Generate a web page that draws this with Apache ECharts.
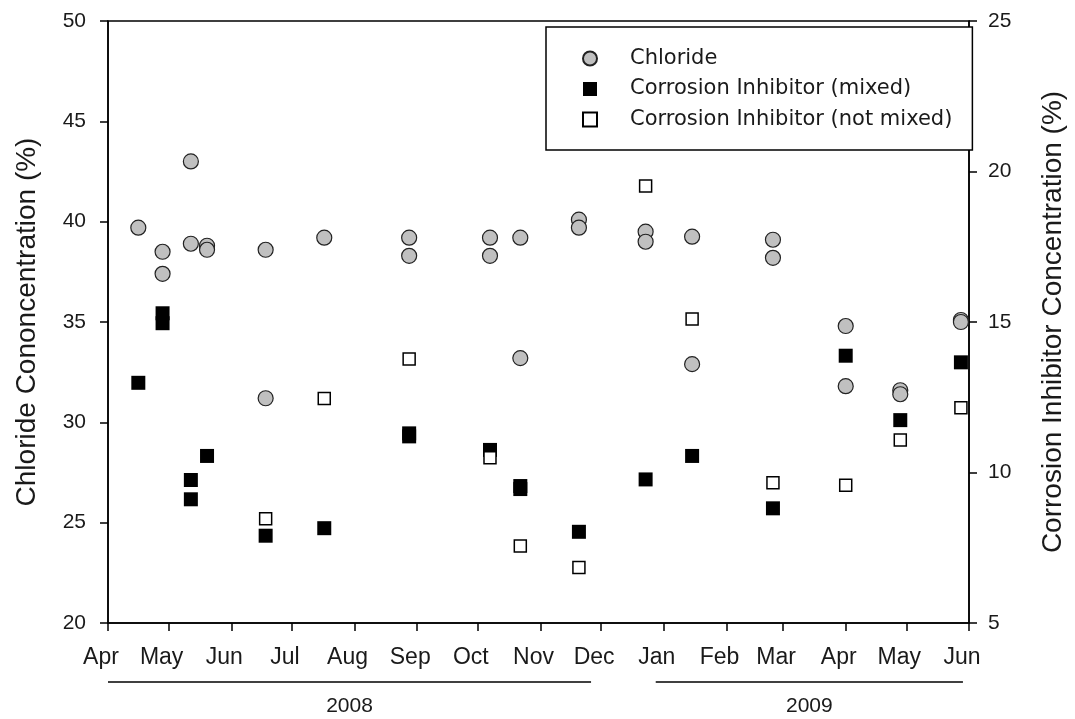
<!DOCTYPE html>
<html>
<head>
<meta charset="utf-8">
<script src="https://cdn.jsdelivr.net/npm/echarts@6/dist/echarts.min.js"></script>
<style>
html,body{margin:0;padding:0;background:#fff;}
#chart{width:1075px;height:719px;}
</style>
</head>
<body>
<div id="chart"></div>
<script>
// ---- data ----
const monthNames = ['Jan','Feb','Mar','Apr','May','Jun','Jul','Aug','Sep','Oct','Nov','Dec'];
const tickDates = ['2008-04-01','2008-05-01','2008-06-01','2008-07-01','2008-08-01','2008-09-01','2008-10-01','2008-11-01','2008-12-01','2009-01-01','2009-02-01','2009-03-01','2009-04-01','2009-05-01','2009-06-01'];
const leftTicks = [20, 25, 30, 35, 40, 45, 50];
const rightTicks = [5, 10, 15, 20, 25];

const chlorideDates  = ['2008-04-16','2008-04-28','2008-04-28','2008-05-12','2008-05-12','2008-05-20','2008-05-20','2008-06-18','2008-06-18','2008-07-17','2008-08-28','2008-08-28','2008-10-07','2008-10-07','2008-10-22','2008-10-22','2008-11-20','2008-11-20','2008-12-23','2008-12-23','2009-01-15','2009-01-15','2009-02-24','2009-02-24','2009-04-01','2009-04-01','2009-04-28','2009-04-28','2009-05-28','2009-05-28'];
const chlorideValues = [39.7, 38.5, 37.4, 43.0, 38.9, 38.8, 38.6, 38.6, 31.2, 39.2, 39.2, 38.3, 39.2, 38.3, 39.2, 33.2, 40.1, 39.7, 39.5, 39.0, 39.25, 32.9, 39.1, 38.2, 34.8, 31.8, 31.6, 31.4, 35.1, 35.0];

const mixedDates  = ['2008-04-16','2008-04-28','2008-04-28','2008-05-12','2008-05-12','2008-05-20','2008-06-18','2008-07-17','2008-08-28','2008-08-28','2008-10-07','2008-10-22','2008-10-22','2008-11-20','2008-12-23','2009-01-15','2009-02-24','2009-04-01','2009-04-28','2009-05-28'];
const mixedValues = [12.98, 15.29, 14.96, 9.75, 9.11, 10.55, 7.90, 8.15, 11.3, 11.2, 10.75, 9.55, 9.45, 8.03, 9.77, 10.55, 8.81, 13.88, 11.74, 13.66];

const notMixedDates  = ['2008-06-18','2008-07-17','2008-08-28','2008-10-07','2008-10-22','2008-11-20','2008-12-23','2009-01-15','2009-02-24','2009-04-01','2009-04-28','2009-05-28'];
const notMixedValues = [8.46, 12.46, 13.77, 10.49, 7.56, 6.84, 19.52, 15.10, 9.66, 9.58, 11.08, 12.15];

const yearLabels = ['2008', '2009'];
const yearStarts = ['2008-04-01', '2008-12-28'];
const yearEnds   = ['2008-11-26', '2009-05-29'];

// ---- helpers ----
function ts(s){ const p = s.split('-').map(Number); return new Date(p[0], p[1]-1, p[2]).getTime(); }
function pairs(dates, vals){ return dates.map((d,i)=>[ts(d), vals[i]]); }

const FONT = 'Liberation Sans, Arial, sans-serif';
const TXT = '#1a1a1a';

const chart = echarts.init(document.getElementById('chart'));
const tickTs = tickDates.map(ts);

const option = {
  backgroundColor: '#fff',
  animation: false,
  grid: { left: 108, right: 102, top: 21, bottom: 96, show: true, borderColor: '#000', borderWidth: 1.5, backgroundColor: 'transparent' },
  legend: {
    orient: 'vertical',
    left: 546, top: 27,
    itemWidth: 14, itemHeight: 14,
    itemGap: 9.5,
    padding: [21, 20, 20, 36],
    borderColor: '#000', borderWidth: 1.5, backgroundColor: '#fff',
    textStyle: { fontFamily: 'DejaVu Sans, sans-serif', fontSize: 21, color: TXT, lineHeight: 20, padding: [0, 0, 0, 28] },
    data: ['Chloride', 'Corrosion Inhibitor (mixed)', 'Corrosion Inhibitor (not mixed)']
  },
  xAxis: {
    type: 'value',
    min: tickTs[0], max: tickTs[tickTs.length-1],
    splitLine: { show: false },
    axisLine: { lineStyle: { color: '#000', width: 1.5 } },
    axisTick: { show: true, inside: false, length: 8, lineStyle: { color: '#000', width: 1.5 }, customValues: tickTs },
    axisLabel: {
      customValues: tickTs,
      fontFamily: FONT, fontSize: 23, color: TXT, margin: 23, padding: [0, 14, 0, 0],
      formatter: function(v){ return monthNames[new Date(v).getMonth()]; }
    }
  },
  yAxis: [
    {
      type: 'value', min: leftTicks[0], max: leftTicks[leftTicks.length-1], interval: 5,
      position: 'left',
      name: 'Chloride Cononcentration (%)', nameLocation: 'middle', nameGap: 67, nameRotate: 90,
      nameTextStyle: { fontFamily: FONT, fontSize: 28, color: TXT },
      splitLine: { show: false },
      axisLine: { show: true, lineStyle: { color: '#000', width: 1.5 } },
      axisTick: { show: true, length: 8, lineStyle: { color: '#000', width: 1.5 } },
      axisLabel: { fontFamily: FONT, fontSize: 21, color: TXT, margin: 22 }
    },
    {
      type: 'value', min: rightTicks[0], max: rightTicks[rightTicks.length-1], interval: 5,
      position: 'right',
      name: 'Corrosion Inhibitor Concentration (%)', nameLocation: 'middle', nameGap: 70, nameRotate: 90,
      nameTextStyle: { fontFamily: FONT, fontSize: 28, color: TXT },
      splitLine: { show: false },
      axisLine: { show: true, lineStyle: { color: '#000', width: 1.5 } },
      axisTick: { show: true, length: 8, lineStyle: { color: '#000', width: 1.5 } },
      axisLabel: { fontFamily: FONT, fontSize: 21, color: TXT, margin: 19 }
    }
  ],
  series: [
    {
      name: 'Chloride', type: 'scatter', yAxisIndex: 0,
      symbol: 'circle', symbolSize: 15,
      itemStyle: { color: '#c0c0c0', borderColor: '#222', borderWidth: 1.2, opacity: 1 },
      data: pairs(chlorideDates, chlorideValues)
    },
    {
      name: 'Corrosion Inhibitor (mixed)', type: 'scatter', yAxisIndex: 1,
      symbol: 'rect', symbolSize: 14,
      itemStyle: { color: '#000', borderColor: '#000', borderWidth: 0, opacity: 1 },
      data: pairs(mixedDates, mixedValues)
    },
    {
      name: 'Corrosion Inhibitor (not mixed)', type: 'scatter', yAxisIndex: 1,
      symbol: 'rect', symbolSize: 12,
      itemStyle: { color: '#fff', borderColor: '#000', borderWidth: 1.5, opacity: 1 },
      data: pairs(notMixedDates, notMixedValues)
    }
  ]
};
chart.setOption(option);

// year annotations under the axis, positioned through the axis scale
const graphics = [];
yearLabels.forEach((lab, i) => {
  const x0 = chart.convertToPixel({ xAxisIndex: 0 }, ts(yearStarts[i]));
  const x1 = chart.convertToPixel({ xAxisIndex: 0 }, ts(yearEnds[i]));
  graphics.push({ type: 'line', shape: { x1: x0, y1: 682, x2: x1, y2: 682 }, style: { stroke: '#000', lineWidth: 1.5 } });
  graphics.push({ type: 'text', x: (x0 + x1) / 2, y: 706, style: { text: lab, fontFamily: FONT, fontSize: 21, fill: TXT, textAlign: 'center', textVerticalAlign: 'middle' } });
});
chart.setOption({ graphic: graphics });
</script>
</body>
</html>
